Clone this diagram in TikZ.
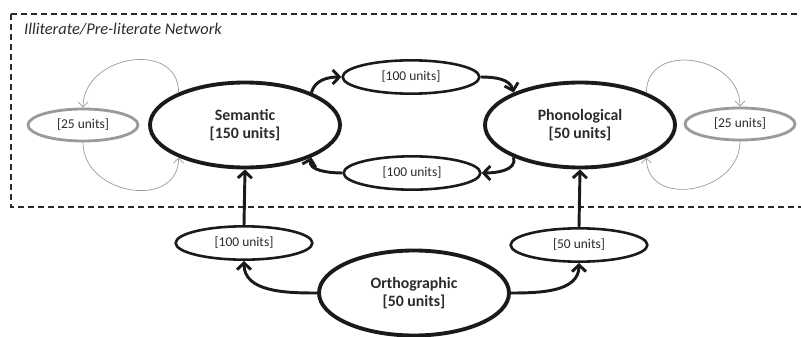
\documentclass[tikz,border=0pt]{standalone}
\usepackage{fontspec}
\setmainfont{Carlito}
\usetikzlibrary{positioning, arrows.meta, shapes.geometric}
\definecolor{inkcolor}{HTML}{1A1A1A}
\definecolor{textcolor}{HTML}{2B2B2B}
\definecolor{loopcolor}{HTML}{9A9A9A}

\begin{document}
\begin{tikzpicture}[
    x=0.3mm, y=0.3mm,
    % Node styles
    bignode/.style={
        ellipse, draw=inkcolor, fill=white, line width=3.3pt,
        minimum width=57mm, minimum height=25.5mm,
        font=\fontsize{13.5}{16}\selectfont\bfseries, text=textcolor,
        align=center
    },
    unitnode/.style={
        ellipse, draw=inkcolor, fill=white, line width=2.2pt,
        minimum width=41mm, minimum height=10mm,
        font=\fontsize{11.5}{14}\selectfont, text=textcolor
    },
    selfnode/.style={
        ellipse, draw=loopcolor, fill=white, line width=2.4pt,
        minimum width=33mm, minimum height=9.6mm,
        font=\fontsize{11.5}{14}\selectfont, text=textcolor
    },
    % Edge styles
    mainedge/.style={
        -{Straight Barb[length=2mm, width=4.2mm]}, line width=2.5pt, inkcolor
    },
    loopedge/.style={
        -{Straight Barb[length=1.6mm, width=3mm]}, line width=0.6pt, loopcolor
    },
    % Frame style
    netframe/.style={
        draw=textcolor, line width=0.9pt, dash pattern=on 1.8mm off 1.2mm
    }
]
\useasboundingbox (0,0) rectangle (801,-337);

% ============ NETWORK FRAME ============
\draw[netframe] (11,-14) -- (830,-14) (11,-14) -- (11,-207) -- (830,-207);
\node[anchor=base west, font=\fontsize{14}{16}\selectfont\itshape, text=textcolor]
    (title) at (20,-35) {Illiterate/Pre-literate Network};

% ============ MAIN NODES ============
\node[bignode] (sem) at (245,-125) {Semantic\\{}[150 units]};
\node[bignode] (phon) at (580,-125) {Phonological\\{}[50 units]};
\node[bignode] (orth) at (414,-293) {Orthographic\\{}[50 units]};

% ============ UNIT NODES ============
\node[unitnode] (semphon) at (411,-77) {[100 units]};
\node[unitnode] (phonsem) at (412,-173) {[100 units]};
\node[unitnode] (orthsem) at (244,-243) {[100 units]};
\node[unitnode] (orthphon) at (579,-245) {[50 units]};

% Self connections
\node[selfnode] (semself) at (83,-125) {[25 units]};
\node[selfnode] (phonself) at (740,-124) {[25 units]};

% ============ EDGES ============
% Semantic <-> Phonological
\draw[mainedge] (sem.26) to[out=75, in=180] (semphon.west);
\draw[mainedge] (semphon.east) to[out=0, in=105] (phon.154);
\draw[mainedge] (phon.206) to[out=-75, in=0] (phonsem.east);
\draw[mainedge] (phonsem.west) to[out=180, in=-105] (sem.-26);

% Orthographic to the rest
\draw[mainedge] (orth.180) to[out=180, in=-90] (orthsem.south);
\draw[mainedge] (orthsem.north) -- (sem.south);
\draw[mainedge] (orth.0) to[out=0, in=-90] (orthphon.south);
\draw[mainedge] (orthphon.north) -- (phon.south);

% Self loops
\draw[loopedge] (sem.154) to[out=90, in=90, looseness=1.4] (semself.north);
\draw[loopedge] (semself.south) to[out=-90, in=-90, looseness=1.4] (sem.206);
\draw[loopedge] (phon.26) to[out=90, in=90, looseness=1.4] (phonself.north);
\draw[loopedge] (phonself.south) to[out=-90, in=-90, looseness=1.4] (phon.-26);

\end{tikzpicture}
\end{document}
